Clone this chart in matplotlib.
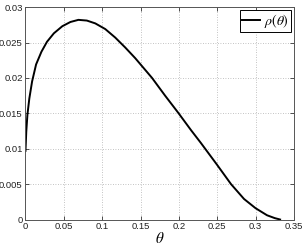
import matplotlib
matplotlib.use("Agg")
import matplotlib.pyplot as plt

# valores
theta = [0.0, 0.001, 0.0025, 0.005, 0.0086, 0.0138, 0.0208, 0.028, 0.037,
         0.048, 0.0586, 0.069, 0.080, 0.091, 0.104, 0.117, 0.130, 0.143,
         0.154, 0.165, 0.182, 0.199, 0.216, 0.2288, 0.250, 0.268, 0.285,
         0.300, 0.315, 0.325, 0.332]
rho = [0.0097, 0.0124, 0.0148, 0.0171, 0.0195, 0.0219, 0.0237, 0.0251, 0.0263,
       0.0273, 0.0279, 0.0282, 0.0281, 0.0277, 0.0269, 0.0257, 0.0243, 0.0228,
       0.0214, 0.0200, 0.0175, 0.0151, 0.0126, 0.0108, 0.0077, 0.0050, 0.0029,
       0.0016, 0.0006, 0.0002, 0.0]

xticks = [0, 0.05, 0.1, 0.15, 0.2, 0.25, 0.3, 0.35]
xtick_labels = ["0", "0.05", "0.1", "0.15", "0.2", "0.25", "0.3", "0.35"]
yticks = [0, 0.005, 0.01, 0.015, 0.02, 0.025, 0.03]
ytick_labels = ["0", "0.005", "0.01", "0.015", "0.02", "0.025", "0.03"]

plt.rcParams["font.family"] = ["Liberation Sans", "DejaVu Sans"]
plt.rcParams["mathtext.fontset"] = "stix"

fig = plt.figure(figsize=(3.05, 2.45), dpi=100)
ax = fig.add_axes([0.0836, 0.104, 0.880, 0.867])

ax.plot(theta, rho, color="black", linewidth=1.4, label=r"$\rho(\theta)$")

ax.set_xlim(0, 0.35)
ax.set_ylim(0, 0.03)
ax.set_xticks(xticks)
ax.set_xticklabels(xtick_labels)
ax.set_yticks(yticks)
ax.set_yticklabels(ytick_labels)

# estilo parecido com o do MATLAB: ticks para dentro, grade pontilhada
ax.tick_params(direction="in", length=3, width=0.6, labelsize=6.8,
               top=True, right=True, colors="#333333", labelcolor="#222222", pad=2)
ax.grid(True, linestyle=(0, (1, 2)), color="#b0b0b0", linewidth=0.6)
for s in ax.spines.values():
    s.set_linewidth(0.7)
    s.set_color("#555555")

ax.set_xlabel(r"$\theta$", fontsize=11, labelpad=0)

leg = ax.legend(loc="upper right", fontsize=10, fancybox=False, framealpha=1,
                edgecolor="black", handlelength=1.3, handletextpad=0.3,
                borderpad=0.15, borderaxespad=0.2)
leg.get_frame().set_linewidth(0.7)

fig.savefig("out.png", dpi=100)
